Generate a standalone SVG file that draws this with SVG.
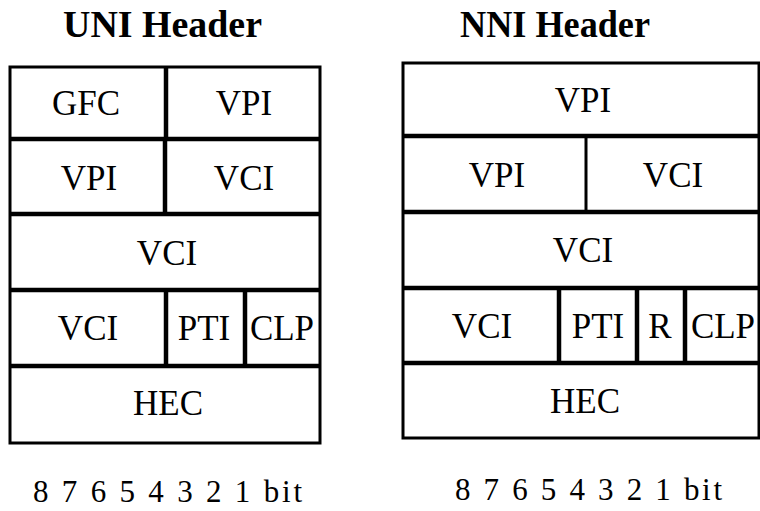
<svg xmlns="http://www.w3.org/2000/svg" width="760" height="511" viewBox="0 0 760 511">
<style>
  text { font-family: "Liberation Serif", "DejaVu Serif", serif; fill: #000; }
  .t { font-size: 35px; text-anchor: middle; }
  .h { font-size: 37px; font-weight: bold; }
  .b { font-size: 31px; }
  .outer { fill: #fff; stroke: #000; stroke-width: 3; }
  .div { stroke: #000; stroke-width: 4.5; fill: none; }
  .thin { stroke: #000; stroke-width: 1.5; fill: none; }
</style>
<rect width="760" height="511" fill="#fff"/>

<g id="titles">
  <text class="h" x="63" y="37" textLength="199" lengthAdjust="spacingAndGlyphs">UNI Header</text>
  <text class="h" x="460" y="37" textLength="190" lengthAdjust="spacingAndGlyphs">NNI Header</text>
</g>

<g id="uni">
  <rect class="outer" x="10" y="67" width="310" height="376"/>
  <g id="uni-lines">
    <line class="div" x1="10" y1="139" x2="320" y2="139"/>
    <line class="div" x1="10" y1="214" x2="320" y2="214"/>
    <line class="div" x1="10" y1="290" x2="320" y2="290"/>
    <line class="div" x1="10" y1="366" x2="320" y2="366"/>
    <line class="div" x1="166" y1="67" x2="166" y2="139"/>
    <line class="div" x1="165" y1="139" x2="165" y2="214"/>
    <line class="div" x1="166" y1="290" x2="166" y2="366"/>
    <line class="div" x1="245" y1="290" x2="245" y2="366"/>
  </g>
  <g id="uni-labels">
    <text class="t" x="86" y="115">GFC</text>
    <text class="t" x="244" y="115">VPI</text>
    <text class="t" x="89" y="190">VPI</text>
    <text class="t" x="244" y="190">VCI</text>
    <text class="t" x="167" y="265">VCI</text>
    <text class="t" x="88" y="340">VCI</text>
    <text class="t" x="204" y="340">PTI</text>
    <text class="t" x="282" y="340">CLP</text>
    <text class="t" x="168" y="415">HEC</text>
  </g>
</g>

<g id="nni">
  <rect class="outer" x="403" y="63" width="356" height="375"/>
  <line class="thin" x1="759" y1="63" x2="759" y2="438"/>
  <g id="nni-lines">
    <line class="div" x1="403" y1="136" x2="760" y2="136"/>
    <line class="div" x1="403" y1="212" x2="760" y2="212"/>
    <line class="div" x1="403" y1="288" x2="760" y2="288"/>
    <line class="div" x1="403" y1="363" x2="760" y2="363"/>
    <line class="thin" x1="586" y1="136" x2="586" y2="212" style="stroke-width:3"/>
    <line class="div" x1="559" y1="288" x2="559" y2="363"/>
    <line class="div" x1="637" y1="288" x2="637" y2="363"/>
    <line class="div" x1="685" y1="288" x2="685" y2="363"/>
  </g>
  <g id="nni-labels">
    <text class="t" x="583" y="112">VPI</text>
    <text class="t" x="497" y="187">VPI</text>
    <text class="t" x="673" y="187">VCI</text>
    <text class="t" x="583" y="262">VCI</text>
    <text class="t" x="482" y="338">VCI</text>
    <text class="t" x="598" y="338">PTI</text>
    <text class="t" x="660" y="338">R</text>
    <text class="t" x="723" y="338">CLP</text>
    <text class="t" x="585" y="413">HEC</text>
  </g>
</g>

<g id="bits">
  <text class="b" x="33" y="502" textLength="269" lengthAdjust="spacing">8 7 6 5 4 3 2 1 bit</text>
  <text class="b" x="455" y="500" textLength="267" lengthAdjust="spacing">8 7 6 5 4 3 2 1 bit</text>
</g>
</svg>
